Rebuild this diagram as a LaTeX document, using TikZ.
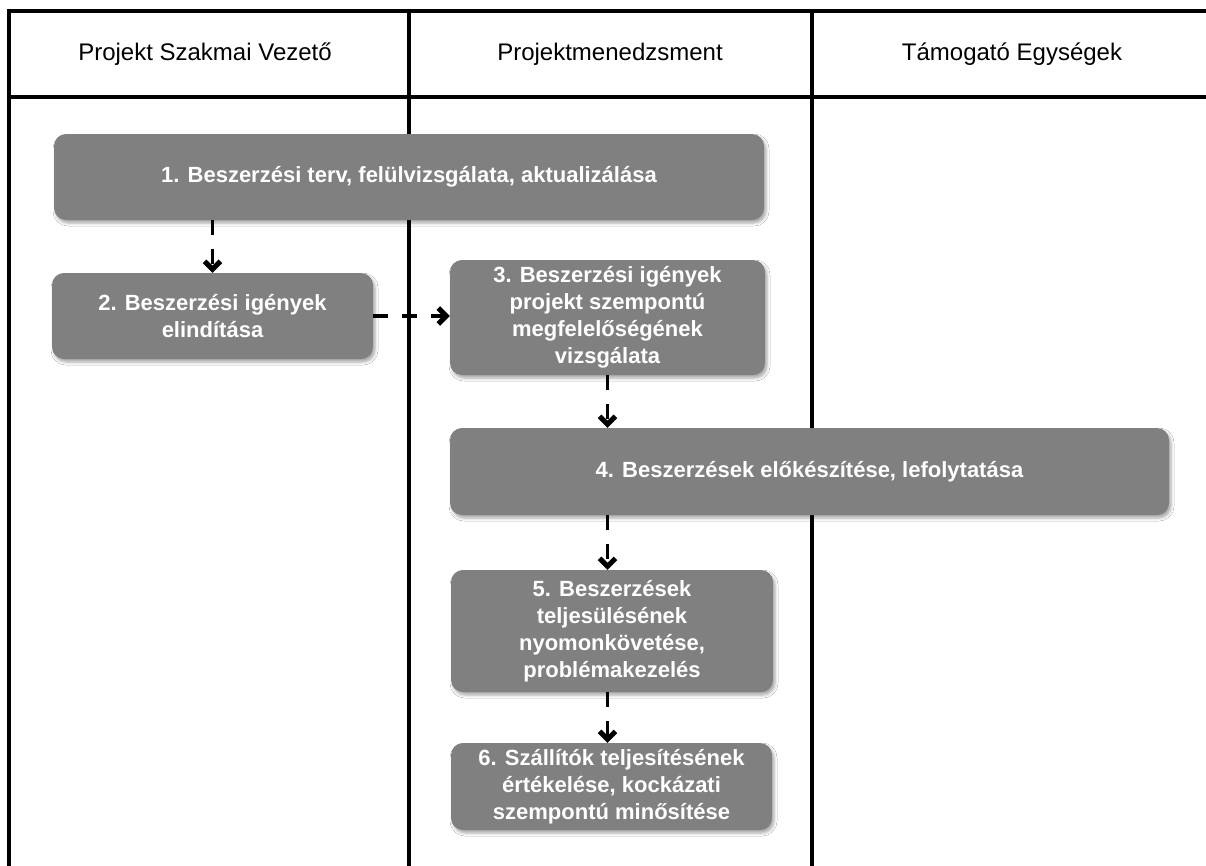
\documentclass[tikz,border=0pt]{standalone}
\usepackage{fontspec}
\setmainfont{Liberation Sans}
\usetikzlibrary{arrows.meta,shadows.blur}

\tikzset{
  grid/.style={line width=3.5pt, line cap=rect},
  lanehead/.style={font=\fontsize{24}{28}\selectfont, text=black, inner sep=0pt},
  stepbox/.style={rectangle, rounded corners=12pt, fill=black!50, draw=none,
    text=white, align=center, inner sep=0pt,
    font=\bfseries\fontsize{22}{27}\selectfont,
    blur shadow={shadow xshift=2pt, shadow yshift=-3pt, shadow blur radius=3pt, shadow opacity=35}},
  flow/.style={line width=3.5pt, dash pattern=on 15pt off 14pt,
    -{Straight Barb[length=8pt, width=16pt, line width=5pt, line cap=butt]}}
}

\begin{document}
\begin{tikzpicture}[x=1pt, y=-1pt]
  \useasboundingbox (0,0) rectangle (1206,865);
  \fill[white] (0,0) rectangle (1206,865);

  % swimlane grid
  \draw[grid] (1206,11) -- (9,11) -- (9,865);
  \draw[grid] (9,97) -- (1206,97);
  \draw[grid] (409,11) -- (409,865);
  \draw[grid] (812,11) -- (812,865);

  % lane titles
  \node[lanehead] (h1) at (205,54) {Projekt Szakmai Vezető};
  \node[lanehead] (h2) at (610,54) {Projektmenedzsment};
  \node[lanehead] (h3) at (1012,54) {Támogató Egységek};

  % process steps
  \node[stepbox, minimum width=710pt, minimum height=86pt] (b1) at (409,177)
    {1. Beszerzési terv, felülvizsgálata, aktualizálása};
  \node[stepbox, minimum width=321pt, minimum height=86pt] (b2) at (212.5,316)
    {2. Beszerzési igények\\elindítása};
  \node[stepbox, minimum width=315pt, minimum height=115pt] (b3) at (607.5,317.5)
    {3. Beszerzési igények\\projekt szempontú\\megfelelőségének\\vizsgálata};
  \node[stepbox, minimum width=719pt, minimum height=87pt] (b4) at (809.5,471.5)
    {4. Beszerzések előkészítése, lefolytatása};
  \node[stepbox, minimum width=322pt, minimum height=122pt] (b5) at (612,631)
    {5. Beszerzések\\teljesülésének\\nyomonkövetése,\\problémakezelés};
  \node[stepbox, minimum width=321pt, minimum height=87pt] (b6) at (611.5,786.5)
    {6. Szállítók teljesítésének\\értékelése, kockázati\\szempontú minősítése};

  % connectors
  \draw[flow] (b2.north |- b1.south) -- (b2.north);
  \draw[flow] (b2.east) -- (b2.east -| b3.west);
  \draw[flow] (b3.south) -- (b3.south |- b4.north);
  \draw[flow] (b3.south |- b4.south) -- (b3.south |- b5.north);
  \draw[flow] (b3.south |- b5.south) -- (b3.south |- b6.north);
\end{tikzpicture}
\end{document}
